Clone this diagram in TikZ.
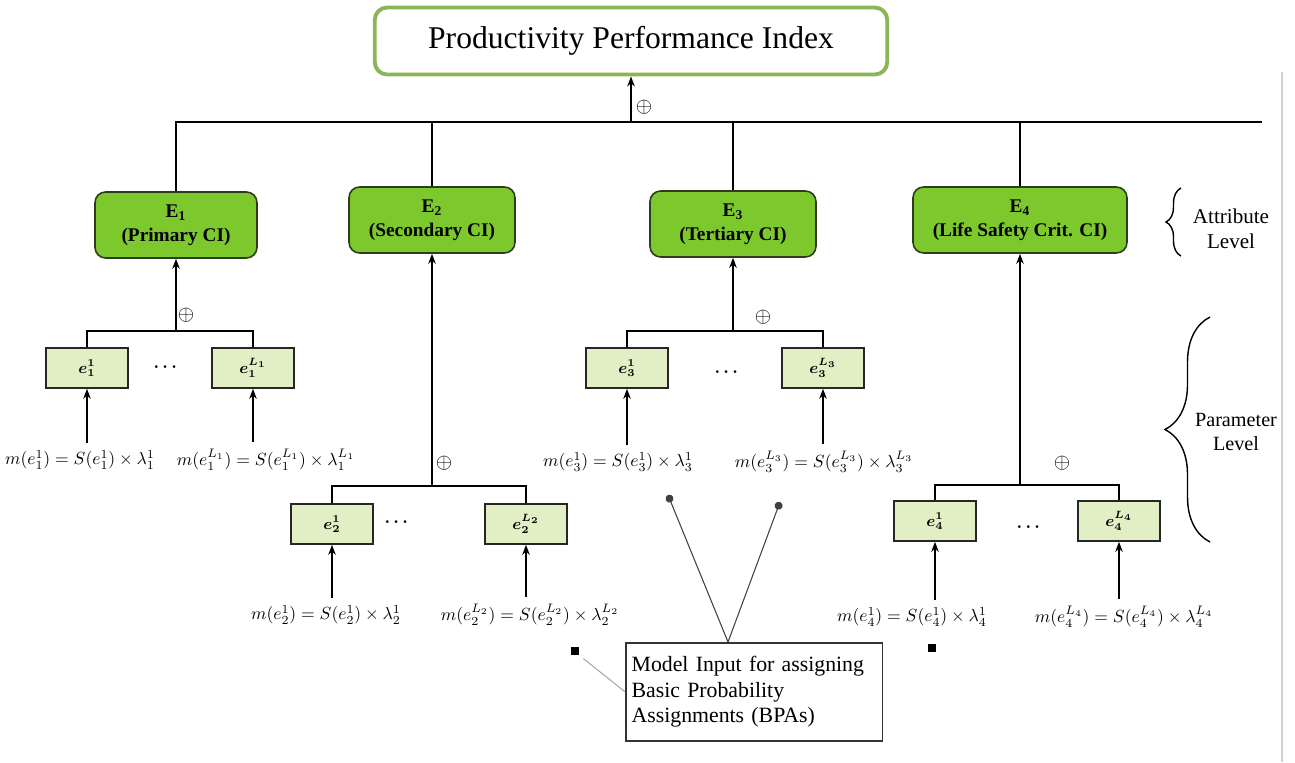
\documentclass[tikz,border=0pt]{standalone}
\usepackage{fontspec}
\setmainfont{Liberation Serif}
\usepackage{amsmath}
\usetikzlibrary{arrows.meta, positioning, decorations.pathreplacing}
\definecolor{indexgreen}{RGB}{141, 180, 86}
\definecolor{attrgreen}{RGB}{125, 200, 45}
\definecolor{paramgreen}{RGB}{226, 239, 196}
\definecolor{edgedark}{RGB}{45, 60, 30}

\begin{document}
\begin{tikzpicture}[
			x=0.02cm, y=-0.02cm,
			index/.style={rectangle, draw=indexgreen, line width=2.2pt, rounded corners=7pt, fill=white, minimum width=10.25cm, minimum height=1.34cm, font=\fontsize{18}{21}\selectfont},
			attribute/.style={rectangle, draw=edgedark, line width=0.9pt, fill=attrgreen, rounded corners=6pt, minimum width=3.24cm, minimum height=1.32cm, align=center, font=\fontsize{11}{13.5}\selectfont\bfseries},
			param/.style={rectangle, draw=black!85, line width=0.9pt, fill=paramgreen, minimum width=1.64cm, minimum height=0.8cm, font=\fontsize{9}{11}\selectfont\boldmath},
			formula/.style={font=\fontsize{10}{12}\selectfont, inner sep=4pt},
			oplus/.style={font=\fontsize{12}{14}\selectfont, inner sep=0pt},
			dots/.style={font=\fontsize{10}{12}\selectfont\boldmath, inner sep=0pt},
			arrow/.style={-{Stealth[length=2mm, width=1.5mm]}, line width=0.9pt},
			link/.style={line width=0.9pt},
			level/.style={align=center, font=\fontsize{12}{14}\selectfont},
			bracket/.style={decorate, line width=0.8pt},
			bpa/.style={rectangle, draw=black!80, line width=0.9pt, text width=4.9cm, minimum height=1.96cm, align=left, font=\fontsize{12.4}{14.3}\selectfont},
			sq/.style={rectangle, fill=black, minimum size=4.5pt, inner sep=0pt},
			pointer/.style={{Circle[length=4.5pt]}-, line width=0.6pt, draw=black!75}
		]
		\useasboundingbox (0,0) rectangle (1295,762);
		\draw[gray!35, line width=1pt] (1282,72) -- (1282,762);
		
		% Index and attribute level
		\node[index] (ppi) at (631,41) {Productivity Performance Index};
		\node[attribute] (E1) at (176,225) {E\textsubscript{1}\\(Primary CI)};
		\node[attribute, minimum width=3.32cm] (E2) at (432,220) {E\textsubscript{2}\\(Secondary CI)};
		\node[attribute, minimum width=3.32cm] (E3) at (733,224) {E\textsubscript{3}\\(Tertiary CI)};
		\node[attribute, minimum width=4.28cm] (E4) at (1020,220) {E\textsubscript{4}\\(Life Safety Crit. CI)};
		
		\coordinate (topbus) at (630,122);
		\coordinate (topend) at (1262,122);
		\draw[link] (E1.north) |- (topend);
		\draw[link] (E2.north |- topbus) -- (E2.north);
		\draw[link] (E3.north |- topbus) -- (E3.north);
		\draw[link] (E4.north |- topbus) -- (E4.north);
		\draw[arrow] (ppi.south |- topbus) -- (ppi.south);
		\node[oplus] (op0) at (644,107) {$\oplus$};
		
		% Primary CI parameters
		\node[param] (e11) at (87,368) {$e_1^1$};
		\node[param] (e1L) at (253,368) {$e_1^{L_1}$};
		\node[dots] (dots1) at (167,367) {$\cdots$};
		\coordinate (bus1) at (176,331);
		\draw[link] (e11.north) |- (bus1) -| (e1L.north);
		\draw[arrow] (bus1) -- (E1.south);
		\node[oplus] (op1) at (186,315) {$\oplus$};
		\node[formula] (f11) at (80,460) {$m(e_1^1)=S(e_1^1)\times\lambda_1^1$};
		\node[formula] (f1L) at (266,460) {$m(e_1^{L_1})=S(e_1^{L_1})\times\lambda_1^{L_1}$};
		\draw[arrow] (e11.south |- f11.north) -- (e11.south);
		\draw[arrow] (e1L.south |- f1L.north) -- (e1L.south);
		
		% Secondary CI parameters
		\node[param] (e21) at (332,524) {$e_2^1$};
		\node[param] (e2L) at (526,524) {$e_2^{L_2}$};
		\node[dots] (dots2) at (398,522) {$\cdots$};
		\coordinate (bus2) at (432,486);
		\draw[link] (e21.north) |- (bus2) -| (e2L.north);
		\draw[arrow] (bus2) -- (E2.south);
		\node[oplus] (op2) at (444,463) {$\oplus$};
		\node[formula] (f21) at (326,615) {$m(e_2^1)=S(e_2^1)\times\lambda_2^1$};
		\node[formula] (f2L) at (530,615) {$m(e_2^{L_2})=S(e_2^{L_2})\times\lambda_2^{L_2}$};
		\draw[arrow] (e21.south |- f21.north) -- (e21.south);
		\draw[arrow] (e2L.south |- f2L.north) -- (e2L.south);
		
		% Tertiary CI parameters
		\node[param] (e31) at (627,368) {$e_3^1$};
		\node[param] (e3L) at (823,368) {$e_3^{L_3}$};
		\node[dots] (dots3) at (728,372) {$\cdots$};
		\coordinate (bus3) at (733,331);
		\draw[link] (e31.north) |- (bus3) -| (e3L.north);
		\draw[arrow] (bus3) -- (E3.south);
		\node[oplus] (op3) at (763,317) {$\oplus$};
		\node[formula] (f31) at (618,462) {$m(e_3^1)=S(e_3^1)\times\lambda_3^1$};
		\node[formula] (f3L) at (824,462) {$m(e_3^{L_3})=S(e_3^{L_3})\times\lambda_3^{L_3}$};
		\draw[arrow] (e31.south |- f31.north) -- (e31.south);
		\draw[arrow] (e3L.south |- f3L.north) -- (e3L.south);
		
		% Life safety parameters
		\node[param] (e41) at (935,521) {$e_4^1$};
		\node[param] (e4L) at (1119,521) {$e_4^{L_4}$};
		\node[dots] (dots4) at (1030,527) {$\cdots$};
		\coordinate (bus4) at (1020,485);
		\draw[link] (e41.north) |- (bus4) -| (e4L.north);
		\draw[arrow] (bus4) -- (E4.south);
		\node[oplus] (op4) at (1062,463) {$\oplus$};
		\node[formula] (f41) at (912,617) {$m(e_4^1)=S(e_4^1)\times\lambda_4^1$};
		\node[formula] (f4L) at (1124,617) {$m(e_4^{L_4})=S(e_4^{L_4})\times\lambda_4^{L_4}$};
		\draw[arrow] (e41.south |- f41.north) -- (e41.south);
		\draw[arrow] (e4L.south |- f4L.north) -- (e4L.south);
		
		% Levels
		\draw[bracket, decoration={brace, amplitude=0.3cm}] (1181,256) -- (1181,188);
		\node[level] (attr-level) at (1231,229) {Attribute\\Level};
		\draw[bracket, decoration={brace, amplitude=0.9cm}] (1210,542) -- (1210,317);
		\node[level, font=\fontsize{11.5}{14}\selectfont] (param-level) at (1236,432) {Parameter\\Level};
		
		% Model input
		\node[bpa, anchor=north west] (bpa) at (625,642) {Model Input for assigning\\Basic Probability\\Assignments (BPAs)};
		\coordinate (d1) at (668,495);
		\coordinate (d2) at (780,502);
		\coordinate (join) at (728,642);
		\draw[pointer] (d1) -- (join);
		\draw[pointer] (d2) -- (join);
		\node[sq] (s1) at (575,651) {};
		\node[sq] (s2) at (932,648) {};
		\draw[gray!70, line width=0.6pt, shorten <=3pt] (s1.south east) -- (bpa.west);
		\end{tikzpicture}
\end{document}
